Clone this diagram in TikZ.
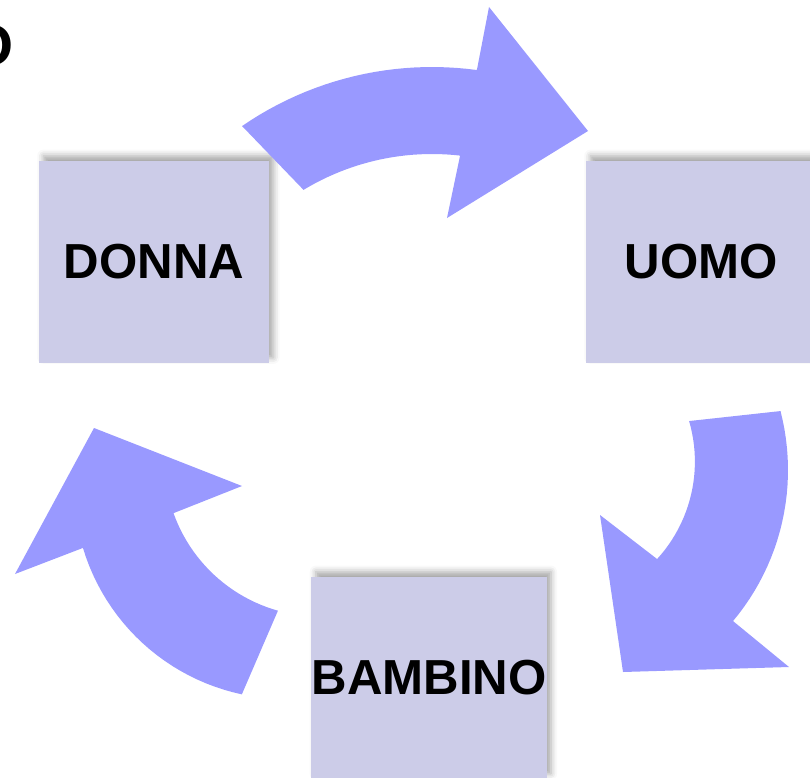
\documentclass[tikz,border=0pt]{standalone}
\usepackage{fontspec}
\setmainfont{Liberation Sans}
\usetikzlibrary{shadows.blur}
\definecolor{cardfill}{RGB}{204,204,232}
\definecolor{arrowfill}{RGB}{153,153,255}

\begin{document}
\begin{tikzpicture}[x=0.02cm,y=-0.02cm,
    card/.style={fill=cardfill,minimum width=4.6cm,minimum height=4.04cm,inner sep=0pt,
        font=\fontsize{28}{32}\selectfont\bfseries,
        blur shadow={shadow xshift=2.5pt,shadow yshift=3pt,shadow blur radius=3.5pt,shadow opacity=35}},
    bigarrow/.style={fill=arrowfill}]
            \useasboundingbox (0,0) rectangle (810,777);
            \clip (0,0) rectangle (810,777);
            \node[font=\fontsize{33}{38}\selectfont\bfseries] at (-9,46) (title) {O};
            \node[card] at (154,262) (donna) {DONNA};
            \node[card] at (701,262) (uomo) {UOMO};
            \node[card] at (429,678) (bambino) {BAMBINO};
            \fill[bigarrow] (242,126) -- plot[domain=-124.5:-82.3,samples=25] ({432+335*cos(\x)},{402+335*sin(\x)}) -- (489,7) -- (588,131) -- (447,218) -- plot[domain=-83.5:-121.2,samples=25] ({432+248*cos(\x)},{402+248*sin(\x)}) -- cycle;
            \fill[bigarrow] (781,411) -- plot[domain=-14.5:40,samples=25] ({553+235*cos(\x)},{470+235*sin(\x)}) -- (789,667) -- (623,672) -- (600,515) -- plot[domain=42.4:-16.3,samples=25] ({550.4+144.5*cos(\x)},{461.6+144.5*sin(\x)}) -- cycle;
            \fill[bigarrow] (242,694) -- plot[domain=102:163.3,samples=25] ({286+212*cos(\x)},{487+212*sin(\x)}) -- (15,574) -- (94,428) -- (242,486) -- plot[domain=160.4:105.7,samples=25] ({320+155.5*cos(\x)},{461+155.5*sin(\x)}) -- cycle;
        \end{tikzpicture}
\end{document}
